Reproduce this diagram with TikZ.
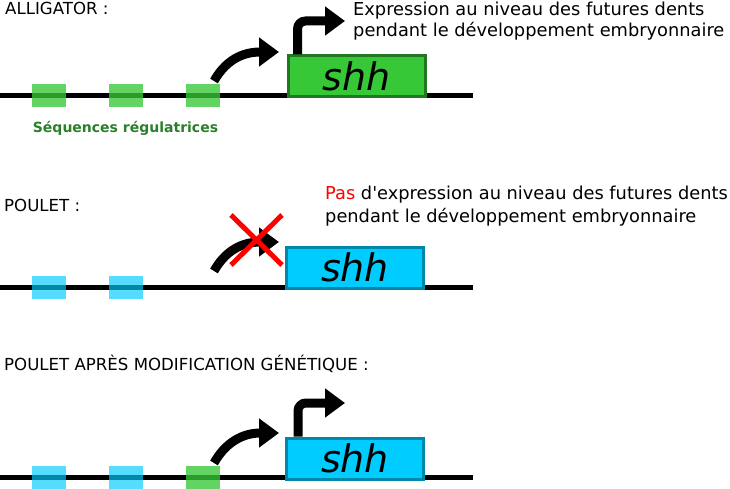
\documentclass[tikz,border=0pt]{standalone}
\usepackage{fontspec}
\setmainfont{DejaVu Sans}[Ligatures=TeXOff]
\usetikzlibrary{arrows.meta}

\definecolor{shhgreen}{HTML}{37C837}
\definecolor{shhgreendark}{HTML}{217821}
\definecolor{shhblue}{HTML}{00CCFF}
\definecolor{shhbluedark}{HTML}{0088AA}
\definecolor{labelgreen}{HTML}{2A7F2A}

\tikzset{
    dna/.style={line width=5pt, black},
    regbox/.style={minimum width=34pt, minimum height=23pt, inner sep=0pt, fill opacity=0.78},
    shhbox/.style={draw, line width=3pt, minimum width=137pt, minimum height=41pt,
        inner sep=0pt, font=\fontsize{38}{40}\selectfont\itshape},
    bigarrow/.style={line width=9pt, -{Triangle[length=20pt,width=28pt]}},
    title/.style={anchor=base west, inner sep=0pt, font=\fontsize{16.6}{18}\selectfont},
    legend/.style={anchor=base west, inner sep=0pt, font=\fontsize{17.8}{21}\selectfont}
}

\begin{document}
\begin{tikzpicture}[x=1pt,y=-1pt]
            \useasboundingbox (0,0) rectangle (730,489);

            % ALLIGATOR
            \node[title] (tA) at (5,15) {ALLIGATOR :};
            \coordinate (lA0) at (0,96);
            \coordinate (lA1) at (473,96);
            \draw[dna] (lA0) -- (lA1);
            \node[regbox, fill=shhgreen] (rA1) at (49,95.5) {};
            \node[regbox, fill=shhgreen] (rA2) at (126,95.5) {};
            \node[regbox, fill=shhgreen] (rA3) at (202.5,95.5) {};
            \node[shhbox, fill=shhgreen, draw=shhgreendark] (shhA) at (356.5,76.5) {shh};
            \node[anchor=base, inner sep=0pt, text=labelgreen,
                font=\fontsize{14}{16}\selectfont\bfseries] (seq) at (125.5,133) {Séquences régulatrices};
            \coordinate (cA0) at (214,81);
            \coordinate (cA1) at (279,52);
            \draw[bigarrow] (cA0) .. controls (228,56) and (248,52) .. (cA1);
            \coordinate (bA0) at ([xshift=11pt]shhA.north west);
            \coordinate (bA1) at (345,21);
            \draw[bigarrow, rounded corners=8pt] (bA0) |- (bA1);
            \node[legend] (eA1) at (353,16) {Expression au niveau des futures dents};
            \node[legend] (eA2) at (353,37) {pendant le développement embryonnaire};

            % POULET
            \node[title] (tB) at (4,211) {POULET :};
            \coordinate (lB0) at (0,287);
            \coordinate (lB1) at (473,287);
            \draw[dna] (lB0) -- (lB1);
            \node[regbox, fill=shhblue, fill opacity=0.67] (rB1) at (49,287) {};
            \node[regbox, fill=shhblue, fill opacity=0.67] (rB2) at (126,287) {};
            \node[shhbox, fill=shhblue, draw=shhbluedark] (shhB) at (355,267.5) {shh};
            \coordinate (cB0) at (214,271);
            \coordinate (cB1) at (279,242);
            \draw[bigarrow] (cB0) .. controls (228,246) and (248,242) .. (cB1);
            \coordinate (xB0) at (231,215);
            \coordinate (xB1) at (282,265);
            \draw[red, line width=5pt] (xB0) -- (xB1) (xB0 -| xB1) -- (xB1 -| xB0);
            \node[legend] (eB1) at (325,200)
                {\textcolor{red}{Pas} d'expression au niveau des futures dents};
            \node[legend] (eB2) at (325,222) {pendant le développement embryonnaire};

            % POULET APRES MODIFICATION
            \node[title] (tC) at (4,370) {POULET APRÈS MODIFICATION GÉNÉTIQUE :};
            \coordinate (lC0) at (0,477);
            \coordinate (lC1) at (473,477);
            \draw[dna] (lC0) -- (lC1);
            \node[regbox, fill=shhblue, fill opacity=0.67] (rC1) at (49,477.5) {};
            \node[regbox, fill=shhblue, fill opacity=0.67] (rC2) at (126,477.5) {};
            \node[regbox, fill=shhgreen] (rC3) at (202.5,477.5) {};
            \node[shhbox, fill=shhblue, draw=shhbluedark] (shhC) at (355,458.5) {shh};
            \coordinate (cC0) at (214,463);
            \coordinate (cC1) at (279,433);
            \draw[bigarrow] (cC0) .. controls (228,438) and (248,433) .. (cC1);
            \coordinate (bC0) at ([xshift=13pt]shhC.north west);
            \coordinate (bC1) at (345,403);
            \draw[bigarrow, rounded corners=8pt] (bC0) |- (bC1);
\end{tikzpicture}
\end{document}
